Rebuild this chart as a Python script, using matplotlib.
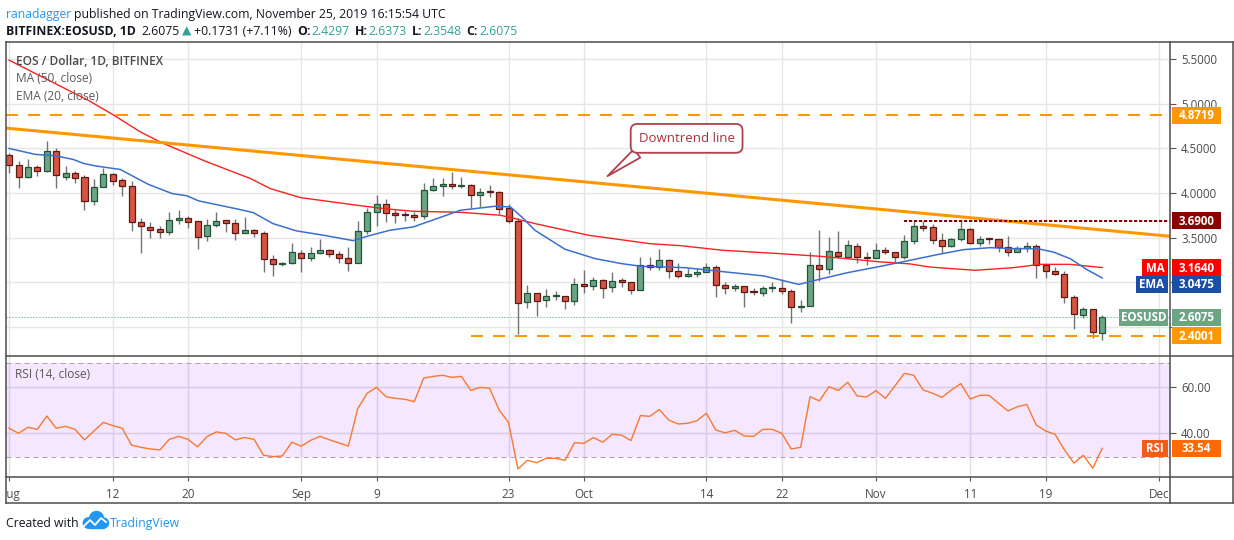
import numpy as np
import matplotlib
matplotlib.use("Agg")
import matplotlib.pyplot as plt
import matplotlib.transforms as mtransforms
from matplotlib.lines import Line2D
from matplotlib.patches import Rectangle, Circle

W, H = 1234, 540
plt.rcParams['font.family'] = ['Open Sans', 'DejaVu Sans']

# day 0 = 1 Aug 2019 ... day 116 = 25 Nov 2019 (EOS/USD daily)
opens = [4.425, 4.309, 4.185, 4.287, 4.242, 4.466, 4.185, 4.230, 4.185, 3.916,
         4.062, 4.208, 4.141, 4.084, 3.680, 3.624, 3.601, 3.568, 3.702, 3.725,
         3.691, 3.523, 3.646, 3.695, 3.668, 3.556, 3.590, 3.556, 3.264, 3.204,
         3.219, 3.327, 3.275, 3.331, 3.365, 3.320, 3.275, 3.219, 3.578, 3.792,
         3.882, 3.781, 3.762, 3.758, 3.747, 4.039, 4.084, 4.106, 4.084, 4.095,
         3.979, 4.017, 4.017, 3.837, 3.691, 2.781, 2.882, 2.803, 2.848, 2.848,
         2.792, 2.983, 2.960, 3.028, 2.945, 3.020, 3.005, 2.915, 3.196, 3.174,
         3.253, 3.129, 3.073, 3.088, 3.114, 3.174, 2.972, 2.934, 2.960, 2.897,
         2.882, 2.938, 2.938, 2.904, 2.720, 2.736, 3.196, 3.148, 3.342, 3.286,
         3.410, 3.286, 3.271, 3.365, 3.342, 3.283, 3.466, 3.634, 3.623, 3.477,
         3.410, 3.488, 3.601, 3.443, 3.492, 3.488, 3.395, 3.339, 3.384, 3.410,
         3.189, 3.129, 3.095, 2.837, 2.635, 2.702, 2.4297]
highs = [4.451, 4.358, 4.380, 4.313, 4.582, 4.504, 4.302, 4.249, 4.197, 4.155,
         4.283, 4.227, 4.167, 4.133, 3.725, 3.672, 3.627, 3.785, 3.807, 3.740,
         3.691, 3.714, 3.785, 3.702, 3.706, 3.728, 3.601, 3.571, 3.301, 3.226,
         3.436, 3.357, 3.391, 3.481, 3.376, 3.346, 3.391, 3.683, 3.833, 3.979,
         3.938, 3.822, 3.799, 3.788, 4.110, 4.166, 4.166, 4.241, 4.175, 4.100,
         4.054, 4.088, 4.020, 3.874, 3.721, 2.964, 2.882, 2.927, 2.897, 2.848,
         3.050, 3.140, 3.062, 3.039, 3.110, 3.046, 3.005, 3.279, 3.279, 3.376,
         3.264, 3.215, 3.159, 3.155, 3.215, 3.189, 3.002, 2.983, 2.960, 2.938,
         2.960, 2.998, 3.039, 2.927, 2.796, 3.342, 3.582, 3.503, 3.571, 3.477,
         3.436, 3.342, 3.436, 3.395, 3.342, 3.526, 3.687, 3.687, 3.649, 3.556,
         3.500, 3.687, 3.612, 3.522, 3.500, 3.488, 3.515, 3.406, 3.455, 3.432,
         3.208, 3.170, 3.129, 2.859, 2.721, 2.702, 2.6373]
lows = [4.227, 4.058, 4.170, 4.193, 4.240, 4.058, 4.144, 4.114, 3.807, 3.867,
        4.062, 4.088, 3.968, 3.575, 3.328, 3.496, 3.496, 3.530, 3.654, 3.609,
        3.373, 3.463, 3.624, 3.564, 3.473, 3.556, 3.507, 3.114, 3.069, 3.181,
        3.204, 3.114, 3.237, 3.316, 3.282, 3.215, 3.125, 3.219, 3.541, 3.631,
        3.676, 3.664, 3.687, 3.683, 3.709, 4.024, 3.968, 4.046, 4.054, 3.833,
        3.844, 3.957, 3.769, 3.665, 2.414, 2.713, 2.620, 2.721, 2.800, 2.698,
        2.743, 2.878, 2.908, 2.822, 2.889, 2.945, 2.867, 2.915, 3.133, 3.140,
        3.046, 3.046, 3.058, 3.058, 3.114, 2.833, 2.870, 2.900, 2.721, 2.852,
        2.844, 2.893, 2.863, 2.545, 2.664, 2.736, 3.017, 3.092, 3.271, 3.286,
        3.215, 3.189, 3.271, 3.316, 3.215, 3.260, 3.428, 3.575, 3.428, 3.327,
        3.395, 3.466, 3.428, 3.406, 3.428, 3.339, 3.294, 3.339, 3.339, 3.046,
        3.046, 3.080, 2.766, 2.473, 2.597, 2.376, 2.3548]
closes = [4.309, 4.185, 4.287, 4.242, 4.466, 4.197, 4.230, 4.174, 3.916, 4.073,
          4.208, 4.137, 4.084, 3.680, 3.635, 3.590, 3.568, 3.702, 3.725, 3.680,
          3.511, 3.646, 3.691, 3.669, 3.556, 3.590, 3.556, 3.264, 3.208, 3.219,
          3.342, 3.275, 3.331, 3.365, 3.320, 3.271, 3.219, 3.578, 3.792, 3.882,
          3.781, 3.758, 3.758, 3.736, 4.039, 4.084, 4.106, 4.084, 4.095, 3.979,
          4.017, 4.013, 3.822, 3.691, 2.770, 2.882, 2.792, 2.848, 2.852, 2.792,
          2.983, 2.960, 3.028, 2.938, 3.016, 3.005, 2.915, 3.196, 3.174, 3.253,
          3.129, 3.073, 3.088, 3.110, 3.174, 2.968, 2.934, 2.960, 2.893, 2.889,
          2.938, 2.949, 2.900, 2.724, 2.736, 3.196, 3.148, 3.354, 3.294, 3.421,
          3.286, 3.271, 3.361, 3.342, 3.283, 3.466, 3.634, 3.612, 3.477, 3.410,
          3.488, 3.601, 3.443, 3.488, 3.485, 3.395, 3.339, 3.384, 3.410, 3.196,
          3.129, 3.095, 2.833, 2.646, 2.702, 2.440, 2.6075]

rsi = [42.2, 40.0, 42.6, 41.7, 47.4, 42.2, 43.0, 41.7, 37.2, 41.0,
       44.7, 43.3, 42.2, 34.9, 34.0, 33.3, 32.9, 37.4, 38.7, 37.4,
       34.2, 38.6, 40.6, 40.0, 37.2, 38.2, 37.4, 30.6, 30.0, 30.3,
       36.2, 34.5, 37.0, 38.7, 37.2, 35.9, 34.5, 50.6, 57.2, 59.7,
       55.7, 55.0, 54.6, 53.6, 63.7, 64.4, 64.9, 64.0, 64.4, 58.4,
       59.7, 59.3, 50.0, 44.7, 24.7, 28.4, 27.4, 29.3, 29.3, 28.4,
       36.0, 35.7, 38.2, 36.2, 39.6, 39.2, 36.9, 47.6, 47.3, 50.2,
       45.7, 44.0, 44.3, 45.4, 48.6, 41.4, 40.2, 41.3, 38.9, 38.7,
       41.7, 41.7, 40.0, 33.3, 34.0, 55.7, 53.9, 60.0, 58.4, 61.9,
       56.0, 55.6, 58.3, 55.0, 60.3, 65.7, 64.9, 58.6, 57.2, 55.4,
       58.6, 61.3, 54.7, 56.3, 56.3, 52.9, 49.6, 51.4, 52.4, 43.6,
       41.0, 39.6, 32.9, 27.2, 30.6, 25.0, 33.54]

ma_days = [0, 8.4, 11.1, 13.9, 16.2, 20.8, 25.6, 27.7, 30.9, 33.0, 36.9, 39.7,
           42.9, 47.9, 52.1, 53.7, 55.8, 61.5, 68.0, 71.2, 75.8, 81.8, 86.1,
           88.9, 92.4, 95.6, 97.7, 102.5, 106.6, 109.4, 112.6, 116]
ma_vals = [5.49, 5.04, 4.874, 4.687, 4.564, 4.358, 4.163, 4.05, 3.949, 3.919,
           3.863, 3.826, 3.795, 3.784, 3.751, 3.713, 3.657, 3.526, 3.432, 3.41,
           3.357, 3.32, 3.29, 3.264, 3.228, 3.205, 3.17, 3.133, 3.163, 3.20,
           3.20, 3.164]

ema_days = [0, 2.8, 4.9, 6.8, 7.9, 9.1, 11.8, 14.8, 17.3, 18.9, 20.1, 24.0,
            25.9, 28.0, 30.5, 33.4, 36.5, 38.0, 40.4, 42.9, 45.4, 47.9, 49.5,
            51.6, 53.2, 54.4, 55.8, 59.0, 62.2, 65.0, 67.1, 71.7, 75.1, 80.1,
            83.8, 86.1, 88.9, 92.1, 95.6, 98.5, 101.3, 104.1, 106.6, 109.1,
            110.8, 112.6, 114.4, 116]
ema_vals = [4.50, 4.433, 4.418, 4.377, 4.332, 4.305, 4.264, 4.096, 3.994, 3.968,
            3.912, 3.826, 3.781, 3.657, 3.575, 3.526, 3.466, 3.515, 3.582, 3.62,
            3.713, 3.807, 3.826, 3.852, 3.844, 3.732, 3.582, 3.369, 3.264, 3.208,
            3.178, 3.163, 3.125, 3.07, 2.975, 3.035, 3.105, 3.17, 3.245, 3.309,
            3.365, 3.387, 3.376, 3.376, 3.339, 3.264, 3.14, 3.0475]

date_days = [0, 11, 19, 31, 39, 53, 61, 74, 82, 92, 102, 110, 122]
date_labels = ['Aug', '12', '20', 'Sep', '9', '23', 'Oct', '14', '22', 'Nov', '11', '19', 'Dec']
price_ticks = [2.5, 3.0, 3.5, 4.0, 4.5, 5.0, 5.5]
# 2.5 and 3.0 sit under the price tags in the reference, so they carry no text
price_labels = ['', '', '3.5000', '4.0000', '4.5000', '5.0000', '5.5000']
rsi_ticks = [40, 60]
rsi_labels = ['40.00', '60.00']

resistance = 4.8719
support = 2.4001
support_start = 49
swing_high = 3.69
swing_start = 95
last_close = 2.6075
last_rsi = 33.54
ma_last = 3.1640
ema_last = 3.0475
trend_days = [-0.33, 123.2]
trend_vals = [4.728, 3.515]

XLIM = (-0.33, 123.2)


def px_box(x0, y0, x1, y1):
    return [x0 / W, 1 - y1 / H, (x1 - x0) / W, (y1 - y0) / H]


fig = plt.figure(figsize=(W / 100, H / 100), dpi=100, facecolor='white')
ax = fig.add_axes(px_box(6, 42, 1170, 355.5))
ax2 = fig.add_axes(px_box(6, 356, 1170, 476.7))
for a in (ax, ax2):
    for s in a.spines.values():
        s.set_visible(False)
    a.set_xlim(*XLIM)
    a.set_axisbelow(True)

# ---- candles
days = np.arange(len(closes))
o = np.array(opens); hi = np.array(highs); lo = np.array(lows); c = np.array(closes)
up = c >= o
ax.vlines(days, lo, hi, color='#737375', lw=1.0, zorder=2)
body_low = np.minimum(o, c)
body_h = np.maximum(np.abs(c - o), 0.006)
ax.bar(days[up], body_h[up], bottom=body_low[up], width=0.64,
       color='#6ba583', edgecolor='#225437', linewidth=0.9, zorder=3)
ax.bar(days[~up], body_h[~up], bottom=body_low[~up], width=0.64,
       color='#d75442', edgecolor='#5b1a13', linewidth=0.9, zorder=3)

ax.plot(ma_days, ma_vals, color='#ff1f1f', lw=1.0, zorder=4)
ax.plot(ema_days, ema_vals, color='#3b6fcf', lw=1.1, zorder=4)

ax.plot(trend_days, trend_vals, color='#ff9800', lw=2.2, zorder=5)
ax.plot(XLIM, [resistance] * 2, color='#ff9800', lw=1.44, dashes=(6, 5), zorder=5)
ax.plot([support_start, XLIM[1]], [support] * 2, color='#ff9800', lw=1.44, dashes=(6, 5), zorder=5)
ax.plot([swing_start, XLIM[1]], [swing_high] * 2, color='#8b0000', lw=1.44, dashes=(1.6, 0.9), zorder=5)
ax.axhline(last_close, color='#4a9a6a', lw=0.72, dashes=(1, 2), zorder=4)

ax.set_ylim(2.1775, 5.694)
ax.set_xticks(date_days)
ax.set_yticks(price_ticks, price_labels)
ax.grid(color='#e6e6e6', lw=1)
ax.tick_params(axis='x', length=0, labelbottom=False)
ax.yaxis.tick_right()
ax.tick_params(axis='y', direction='out', length=4, color='#555555',
               labelsize=8.3, labelcolor='#4a4a4a', pad=4)

ax.annotate('Downtrend line', xy=(63.5, 4.189), xytext=(71.9, 4.613),
            ha='center', va='center', fontsize=9.5, color='#a8323e', zorder=8,
            bbox=dict(boxstyle='round,pad=0.6,rounding_size=0.5', fc='white',
                      ec='#b0404c', lw=1.3),
            arrowprops=dict(arrowstyle='wedge,tail_width=0.8', fc='white',
                            ec='#b0404c', lw=1.3, relpos=(0.1, 0.0),
                            shrinkA=0, shrinkB=0))

# ---- RSI
ax2.fill_between(XLIM, 30, 70, color='#9915ff', alpha=0.1, lw=0, zorder=1)
ax2.axhline(70, color='#aca0b4', lw=0.72, dashes=(5, 4), zorder=2)
ax2.axhline(30, color='#aca0b4', lw=0.72, dashes=(5, 4), zorder=2)
ax2.plot(days, rsi, color='#f7792f', lw=1.0, zorder=4)
ax2.set_ylim(21.4, 73.16)
ax2.set_xticks(date_days, date_labels)
ax2.set_yticks(rsi_ticks, rsi_labels)
ax2.grid(color='#e0e0e0', lw=1)
ax2.tick_params(axis='x', direction='out', length=3, color='#555555',
                labelsize=8.4, labelcolor='#4a4a4a', pad=5)
ax2.yaxis.tick_right()
ax2.tick_params(axis='y', direction='out', length=4, color='#555555',
                labelsize=8.3, labelcolor='#4a4a4a', pad=4)

# ---- frame
fig.add_artist(Rectangle((0, 1 - 503 / H), 5.5 / W, (503 - 477) / H,
                         transform=fig.transFigure, color='white', zorder=5))


def fline(x0, y0, x1, y1):
    fig.add_artist(Line2D([x0 / W, x1 / W], [1 - y0 / H, 1 - y1 / H],
                          color='#4d4d4d', lw=1.1, zorder=6))


fline(6, 42, 1233, 42)
fline(6, 42, 6, 503)
fline(1233, 42, 1233, 503)
fline(6, 503, 1233, 503)
fline(6, 355.5, 1233, 355.5)
fline(6, 476.7, 1233, 476.7)
fline(1170, 42, 1170, 503)

# ---- price axis tags
ident = mtransforms.IdentityTransform()


def tag(axis, val, txt, color, side='right', dy=0, w=49, h=17):
    ypx = axis.transData.transform((0, val))[1] - dy
    xax = axis.transAxes.transform((1, 0))[0]
    x0 = xax + 2 if side == 'right' else xax - 2 - w
    fig.add_artist(Rectangle((x0, ypx - h / 2), w, h, transform=ident,
                             fc=color, ec='none', zorder=7))
    fig.text(x0 + w / 2, ypx - 0.5, txt, transform=ident, ha='center', va='center',
             color='white', fontsize=8.3, fontweight='bold', zorder=8)


tag(ax, resistance, '%.4f' % resistance, '#ff9800')
tag(ax, swing_high, '%.4f' % swing_high, '#8b0000')
tag(ax, ma_last, '%.4f' % ma_last, '#ff0000')
tag(ax, ma_last, 'MA', '#ff0000', side='left', w=26)
tag(ax, ema_last, '%.4f' % ema_last, '#1c4ea3', dy=6.5)
tag(ax, ema_last, 'EMA', '#1c4ea3', side='left', dy=6.5, w=32)
tag(ax, last_close, '%.4f' % last_close, '#6ba583')
tag(ax, last_close, 'EOSUSD', '#6ba583', side='left', w=49)
tag(ax, support, '%.4f' % support, '#ff9800')
tag(ax2, last_rsi, '%.2f' % last_rsi, '#ff6a00')
tag(ax2, last_rsi, 'RSI', '#f25c19', side='left', w=26)

# ---- texts
renderer = fig.canvas.get_renderer()


def text_run(x, y, pieces, size):
    for gap, s, color, weight in pieces:
        x += gap
        t = fig.text(x / W, 1 - y / H, s, fontsize=size, color=color,
                     fontweight=weight, va='baseline', zorder=9)
        x += t.get_window_extent(renderer).width


teal = '#2fa396'
text_run(6, 18, [(0, 'ranadagger', '#2196f3', 'normal'),
                 (3, 'published on TradingView.com, November 25, 2019 16:15:54 UTC', '#131722', 'normal')], 8.8)
text_run(6, 35, [(0, 'BITFINEX:EOSUSD, 1D', '#131722', 'bold'),
                 (6, '2.6075', '#131722', 'normal'),
                 (2, '\u25b2', teal, 'normal'),
                 (3, '+0.1731 (+7.11%)', '#131722', 'normal'),
                 (5, 'O:', '#131722', 'bold'),
                 (1, '2.4297', teal, 'normal'),
                 (5, 'H:', '#131722', 'bold'),
                 (1, '2.6373', teal, 'normal'),
                 (5, 'L:', '#131722', 'bold'),
                 (1, '2.3548', teal, 'normal'),
                 (5, 'C:', '#131722', 'bold'),
                 (1, '2.6075', teal, 'normal')], 8.8)

fig.text(16 / W, 1 - 65.5 / H, 'EOS / Dollar, 1D, BITFINEX', fontsize=8.6,
         color='#4a4a4a', fontweight='semibold', va='baseline', zorder=9)
fig.text(16 / W, 1 - 82.5 / H, 'MA (50, close)', fontsize=8.6, color='#5a5a5a',
         va='baseline', zorder=9)
fig.text(16 / W, 1 - 99.5 / H, 'EMA (20, close)', fontsize=8.6, color='#5a5a5a',
         va='baseline', zorder=9)
fig.text(15 / W, 1 - 378 / H, 'RSI (14, close)', fontsize=8.6, color='#5a5a5a',
         va='baseline', zorder=9)

# footer with a small cloud logo
text_run(6, 527, [(0, 'Created with', '#131722', 'normal')], 8.8)
for cx, cy, r in [(88.5, 523, 5.2), (96.5, 518.5, 7), (103.5, 523, 5)]:
    fig.add_artist(Circle((cx, H - cy), r, transform=ident, color='#2196f3', zorder=9))
fig.add_artist(Rectangle((88.5, H - 528.2), 15, 6, transform=ident, color='#2196f3', zorder=9))
fig.add_artist(Line2D([84, 90, 95, 101, 106], [H - 526, H - 520, H - 525, H - 518, H - 522],
                      transform=ident, color='white', lw=1.3, zorder=10))
text_run(110, 527, [(0, 'TradingView', '#2196f3', 'normal')], 8.8)

fig.savefig('out.png', dpi=100, facecolor='white')
